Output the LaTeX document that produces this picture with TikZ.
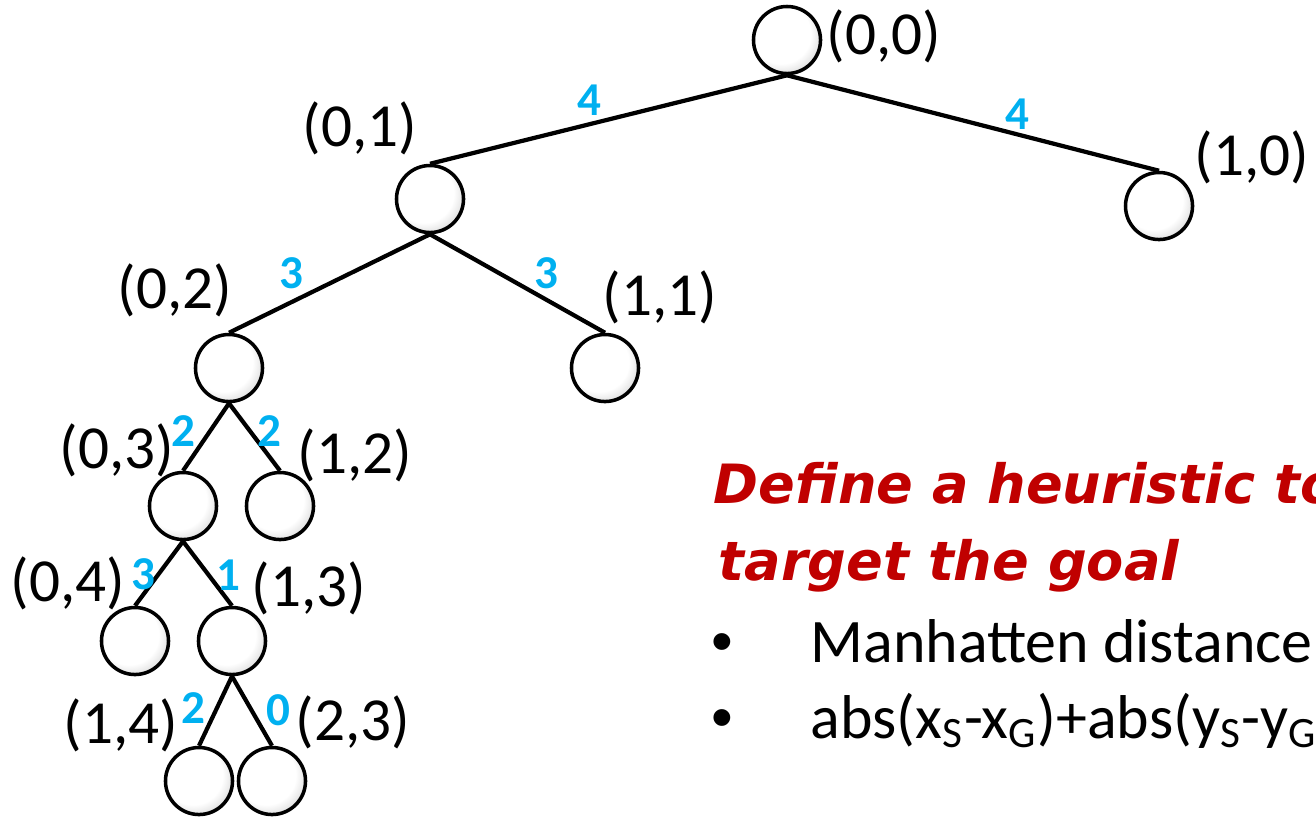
\documentclass[tikz,border=0pt]{standalone}
\usepackage{fontspec}
\setmainfont{Carlito}
\newfontfamily\handfont{DejaVu Sans}
\newfontfamily\dotfont{Liberation Sans}
\usepackage{tikz}
\usetikzlibrary{positioning}
\pgfdeclareradialshading{bead}{\pgfpoint{-7bp}{7bp}}{color(0bp)=(white); color(22bp)=(white); color(36bp)=(black!22); color(46bp)=(black!55); color(60bp)=(black!85)}
\definecolor{costblue}{RGB}{0,176,240}
\definecolor{goalred}{RGB}{192,0,0}

\begin{document}
\begin{tikzpicture}[
  x=0.01cm, y=-0.01cm,
  state/.style={circle, draw, line width=1pt, shading=bead, minimum size=0.67cm, inner sep=0pt},
  coord/.style={inner sep=0pt, font=\fontsize{17.4}{20}\selectfont},
  cost/.style={inner sep=0pt, text=costblue, font=\bfseries\fontsize{13.4}{16}\selectfont},
  link/.style={line width=1.2pt},
  hint/.style={anchor=base west, inner sep=0pt, text=goalred, font=\handfont\bfseries\itshape\fontsize{15.4}{20}\selectfont},
  item/.style={anchor=base west, inner sep=0pt, font=\fontsize{17.6}{21}\selectfont}
]
\clip (0,0) rectangle (1316,817);
% search tree
\node[state] (s00) at (787,40) {};
\node[state] (s01) at (430,199) {};
\node[state] (s10) at (1159,206) {};
\node[state] (s02) at (229,368) {};
\node[state] (s11) at (605,368) {};
\node[state] (s03) at (183,506) {};
\node[state] (s12) at (280,506) {};
\node[state] (s04) at (135,641) {};
\node[state] (s13) at (232,641) {};
\node[state] (s14) at (199,781) {};
\node[state] (s23) at (272,781) {};
\draw[link] (s00.south) -- (s01.north);
\draw[link] (s00.south) -- (s10.north);
\draw[link] (s01.south) -- (s02.north);
\draw[link] (s01.south) -- (s11.north);
\draw[link] (s02.south) -- (s03.north);
\draw[link] (s02.south) -- (s12.north);
\draw[link] (s03.south) -- (s04.north);
\draw[link] (s03.south) -- (s13.north);
\draw[link] (s13.south) -- (s14.north);
\draw[link] (s13.south) -- (s23.north);
% coordinates
\node[coord] (c00) at (884,36) {(0,0)};
\node[coord] (c01) at (360,128) {(0,1)};
\node[coord] (c10) at (1252,157) {(1,0)};
\node[coord] (c02) at (175,290) {(0,2)};
\node[coord] (c11) at (660,297) {(1,1)};
\node[coord] (c03) at (117,450) {(0,3)};
\node[coord] (c12) at (355,455) {(1,2)};
\node[coord] (c04) at (68,583) {(0,4)};
\node[coord] (c13) at (309,588) {(1,3)};
\node[coord] (c14) at (121,725) {(1,4)};
\node[coord] (c23) at (353,722) {(2,3)};
% heuristic values
\node[cost] (h01) at (589,100) {4};
\node[cost] (h10) at (1017,114) {4};
\node[cost] (h02) at (291,273) {3};
\node[cost] (h11) at (546,273) {3};
\node[cost] (h03) at (183,431) {2};
\node[cost] (h12) at (269,431) {2};
\node[cost] (h04) at (143,574) {3};
\node[cost] (h13) at (228,575) {1};
\node[cost] (h14) at (193,708) {2};
\node[cost] (h23) at (278,710) {0};
% note
\node[hint] (note1) at (713,503) {Define a heuristic to};
\node[hint] (note2) at (718,580) {target the goal};
\node[anchor=base, inner sep=0pt, font=\dotfont\fontsize{17.6}{21}\selectfont] (dot1) at (722,662) {•};
\node[anchor=base, inner sep=0pt, font=\dotfont\fontsize{17.6}{21}\selectfont] (dot2) at (722,738) {•};
\node[item] (item1) at (810,662) {Manhatten distance};
\node[item] (item2) at (810,738) {abs(x\textsubscript{S}-x\textsubscript{G})+abs(y\textsubscript{S}-y\textsubscript{G})};
\end{tikzpicture}
\end{document}
